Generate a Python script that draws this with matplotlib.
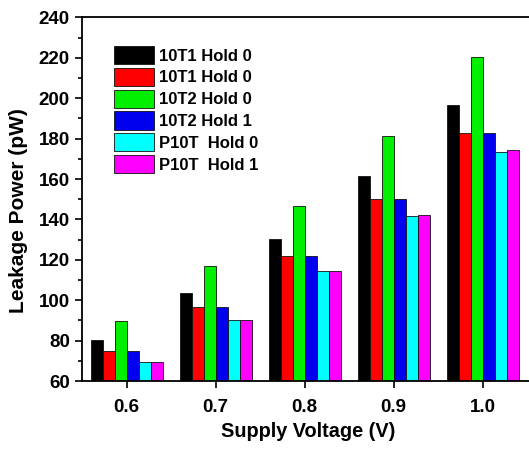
import numpy as np
import matplotlib
matplotlib.use("Agg")
import matplotlib.pyplot as plt
from matplotlib.ticker import MultipleLocator

plt.rcParams["font.family"] = ["Liberation Sans", "DejaVu Sans"]
plt.rcParams["font.weight"] = "bold"

voltages = [0.6, 0.7, 0.8, 0.9, 1.0]
tick_labels = ["0.6", "0.7", "0.8", "0.9", "1.0"]

series_labels = ["10T1 Hold 0", "10T1 Hold 0", "10T2 Hold 0",
                 "10T2 Hold 1", "P10T  Hold 0", "P10T  Hold 1"]
t1_hold0_a = [80.3, 103.7, 130.3, 161.3, 196.8]
t1_hold0_b = [74.9, 96.8, 121.7, 150.1, 182.9]
t2_hold0 = [89.9, 116.8, 146.8, 181.1, 220.6]
t2_hold1 = [74.9, 96.8, 121.7, 150.1, 182.9]
p10t_hold0 = [69.6, 90.2, 114.3, 141.8, 173.5]
p10t_hold1 = [69.6, 90.2, 114.3, 142.2, 174.5]
series = [t1_hold0_a, t1_hold0_b, t2_hold0, t2_hold1, p10t_hold0, p10t_hold1]
colors = ["#000000", "#ff0000", "#00ee00", "#0000ee", "#00ffff", "#ff00ff"]

fig = plt.figure(figsize=(5.29, 4.5), dpi=100)
ax = fig.add_axes([0.1544, 0.1533, 0.8456, 0.808])

bar_w = 0.01345
n = len(series)
for i, (ys, col, lab) in enumerate(zip(series, colors, series_labels)):
    offs = (i - (n - 1) / 2) * bar_w
    ax.bar(np.array(voltages) + offs, np.array(ys) - 60, bottom=60, width=bar_w,
           color=col, edgecolor="#111111", linewidth=0.6, label=lab)

ax.set_xlim(0.5494, 1.052)
ax.set_ylim(60, 240)
ax.set_xticks(voltages)
ax.set_xticklabels(tick_labels)
ax.yaxis.set_major_locator(MultipleLocator(20))
ax.yaxis.set_minor_locator(MultipleLocator(10))

for s in ["left", "bottom", "top"]:
    ax.spines[s].set_linewidth(1.3)
ax.spines["right"].set_visible(False)

ax.tick_params(axis="both", which="major", direction="out", length=5, width=1.2,
               labelsize=13.5)
ax.tick_params(axis="y", which="minor", direction="out", length=3, width=1.2)
ax.tick_params(axis="x", pad=8)

ax.set_xlabel("Supply Voltage (V)", fontsize=14.3, fontweight="bold")
ax.set_ylabel("Leakage Power (pW)", fontsize=15, fontweight="bold")
ax.xaxis.set_label_coords(0.506, -0.112)
ax.yaxis.set_label_coords(-0.12, 0.47)

leg = ax.legend(loc="upper left", bbox_to_anchor=(0.057, 0.94), frameon=False,
                fontsize=12, handlelength=2.4, handleheight=1.3,
                handletextpad=0.3, labelspacing=0.22, borderaxespad=0)
for t in leg.get_texts():
    t.set_fontweight("bold")

fig.savefig("out.png", dpi=100)
